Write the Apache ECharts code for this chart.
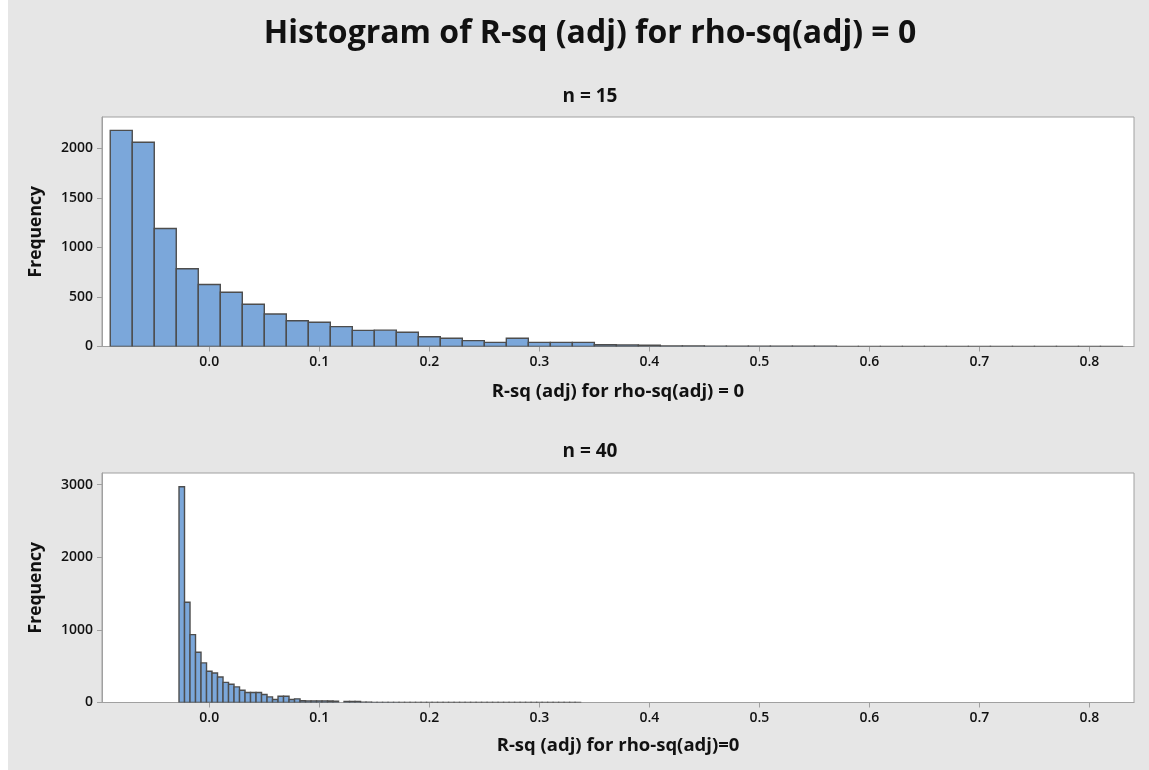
<!DOCTYPE html>
<html><head><meta charset="utf-8">
<script src="https://cdn.jsdelivr.net/npm/echarts@6/dist/echarts.min.js"></script>
<style>html,body{margin:0;padding:0;background:#fff;} #c{width:1149px;height:770px;}</style>
</head><body><div id="c"></div>
<script>
const chartTitle = "Histogram of R-sq (adj) for rho-sq(adj) = 0";
const panelTitles = ["n = 15", "n = 40"];
const xAxisNames = ["R-sq (adj) for rho-sq(adj) = 0", "R-sq (adj) for rho-sq(adj)=0"];
const yAxisName = "Frequency";
const xTickValues = [0.0, 0.1, 0.2, 0.3, 0.4, 0.5, 0.6, 0.7, 0.8];
const yTicksTop = [0, 500, 1000, 1500, 2000];
const yTicksBottom = [0, 1000, 2000, 3000];

// n = 15 histogram (bin width 0.02)
const binWidthTop = 0.02;
const binCentersTop = [-0.08, -0.06, -0.04, -0.02, 0.00, 0.02, 0.04, 0.06, 0.08, 0.10,
  0.12, 0.14, 0.16, 0.18, 0.20, 0.22, 0.24, 0.26, 0.28, 0.30,
  0.32, 0.34, 0.36, 0.38, 0.40, 0.42, 0.44, 0.46, 0.48, 0.50,
  0.52, 0.54, 0.56, 0.58, 0.60, 0.62, 0.64, 0.66, 0.68, 0.70,
  0.72, 0.74, 0.76, 0.78, 0.80, 0.82];
const countsTop = [2180, 2060, 1190, 785, 625, 547, 426, 328, 260, 244,
  200, 163, 165, 143, 99, 83, 59, 42, 83, 42,
  42, 42, 18, 16, 14, 6, 5, 4, 3, 3,
  2, 2, 2, 1, 1, 1, 1, 1, 1, 1,
  1, 1, 1, 1, 1, 1];

// n = 40 histogram (bin width 0.005)
const binWidthBottom = 0.005;
const binCentersBottom = [-0.025, -0.020, -0.015, -0.010, -0.005, 0.000, 0.005, 0.010, 0.015, 0.020,
  0.025, 0.030, 0.035, 0.040, 0.045, 0.050, 0.055, 0.060, 0.065, 0.070,
  0.075, 0.080, 0.085, 0.090, 0.095, 0.100, 0.105, 0.110, 0.115, 0.120,
  0.125, 0.130, 0.135, 0.140, 0.145, 0.150, 0.155, 0.160, 0.165, 0.170,
  0.175, 0.180, 0.185, 0.190, 0.195, 0.200, 0.205, 0.210, 0.215, 0.220,
  0.225, 0.230, 0.235, 0.240, 0.245, 0.250, 0.255, 0.260, 0.265, 0.270,
  0.275, 0.280, 0.285, 0.290, 0.295, 0.300, 0.305, 0.310, 0.315, 0.320,
  0.325, 0.330, 0.335];
const countsBottom = [2970, 1380, 935, 692, 545, 430, 407, 352, 277, 251,
  215, 169, 138, 138, 138, 110, 77, 41, 87, 87,
  41, 50, 25, 22, 22, 22, 22, 20, 18, 0,
  15, 15, 15, 3, 3, 2, 2, 2, 2, 2,
  1, 1, 1, 1, 1, 1, 1, 1, 1, 1,
  1, 1, 1, 1, 1, 1, 1, 1, 1, 1,
  1, 1, 1, 1, 1, 1, 1, 1, 1, 1,
  1, 1, 1];

const FONT = "'Open Sans', 'Noto Sans', sans-serif";
const barFill = '#7ba7da';
const barStroke = '#4d4d4d';
const frameColor = '#a0a0a0';

function makeRender(width) {
  return function (params, api) {
    const c = api.value(0), v = api.value(1);
    if (!v) return null;
    const p0 = api.coord([c - width / 2, v]);
    const p1 = api.coord([c + width / 2, 0]);
    return {
      type: 'rect',
      shape: { x: p0[0], y: p0[1], width: p1[0] - p0[0], height: p1[1] - p0[1] },
      style: { fill: barFill, stroke: barStroke, lineWidth: 1.4 }
    };
  };
}

function xAxisCfg(idx, name, gap) {
  return {
    type: 'value', gridIndex: idx, min: -0.0975, max: 0.8405,
    name: name, nameLocation: 'middle', nameGap: gap,
    nameTextStyle: { fontFamily: FONT, fontWeight: 'bold', fontSize: 18.5, color: '#111' },
    axisLine: { show: true, onZero: false, lineStyle: { color: frameColor, width: 1 } },
    axisTick: { show: true, customValues: xTickValues, length: 5, lineStyle: { color: frameColor } },
    axisLabel: { customValues: xTickValues, formatter: v => v.toFixed(1), margin: 9,
      fontFamily: FONT, fontSize: 14, fontWeight: 600, color: '#111' },
    splitLine: { show: false }
  };
}
function yAxisCfg(idx, max, ticks) {
  return {
    type: 'value', gridIndex: idx, min: 0, max: max,
    name: yAxisName, nameLocation: 'middle', nameRotate: 90, nameGap: 57,
    nameTextStyle: { fontFamily: FONT, fontWeight: 'bold', fontSize: 17.5, color: '#111' },
    axisLine: { show: true, onZero: false, lineStyle: { color: frameColor, width: 1 } },
    axisTick: { show: true, customValues: ticks, length: 5, lineStyle: { color: frameColor } },
    axisLabel: { customValues: ticks, formatter: v => String(v), margin: 9,
      fontFamily: FONT, fontSize: 14, fontWeight: 600, color: '#111' },
    splitLine: { show: false }
  };
}

const chart = echarts.init(document.getElementById('c'), null, { renderer: 'canvas' });
chart.setOption({
  backgroundColor: '#e6e6e6',
  animation: false,
  graphic: [
    { type: 'rect', left: 0, top: 0, shape: { width: 8, height: 770 }, style: { fill: '#ffffff' }, silent: true }
  ],
  title: [
    { text: chartTitle, left: 585, top: 13, textAlign: 'center',
      textStyle: { fontFamily: FONT, fontWeight: 'bold', fontSize: 32, color: '#111' } },
    { text: panelTitles[0], left: 585, top: 82, textAlign: 'center',
      textStyle: { fontFamily: FONT, fontWeight: 'bold', fontSize: 19, color: '#111' } },
    { text: panelTitles[1], left: 585, top: 437, textAlign: 'center',
      textStyle: { fontFamily: FONT, fontWeight: 'bold', fontSize: 19, color: '#111' } }
  ],
  grid: [
    { left: 102, top: 117, width: 1032, height: 229.5, show: true, backgroundColor: '#fff', borderColor: frameColor, borderWidth: 1 },
    { left: 102, top: 473, width: 1032, height: 229.5, show: true, backgroundColor: '#fff', borderColor: frameColor, borderWidth: 1 }
  ],
  xAxis: [xAxisCfg(0, xAxisNames[0], 36), xAxisCfg(1, xAxisNames[1], 34)],
  yAxis: [yAxisCfg(0, 2315, yTicksTop), yAxisCfg(1, 3160, yTicksBottom)],
  series: [
    { type: 'custom', xAxisIndex: 0, yAxisIndex: 0, renderItem: makeRender(binWidthTop),
      data: binCentersTop.map((c, i) => [c, countsTop[i]]), encode: { x: 0, y: 1 }, clip: true },
    { type: 'custom', xAxisIndex: 1, yAxisIndex: 1, renderItem: makeRender(binWidthBottom),
      data: binCentersBottom.map((c, i) => [c, countsBottom[i]]), encode: { x: 0, y: 1 }, clip: true }
  ]
});
</script>
</body></html>
